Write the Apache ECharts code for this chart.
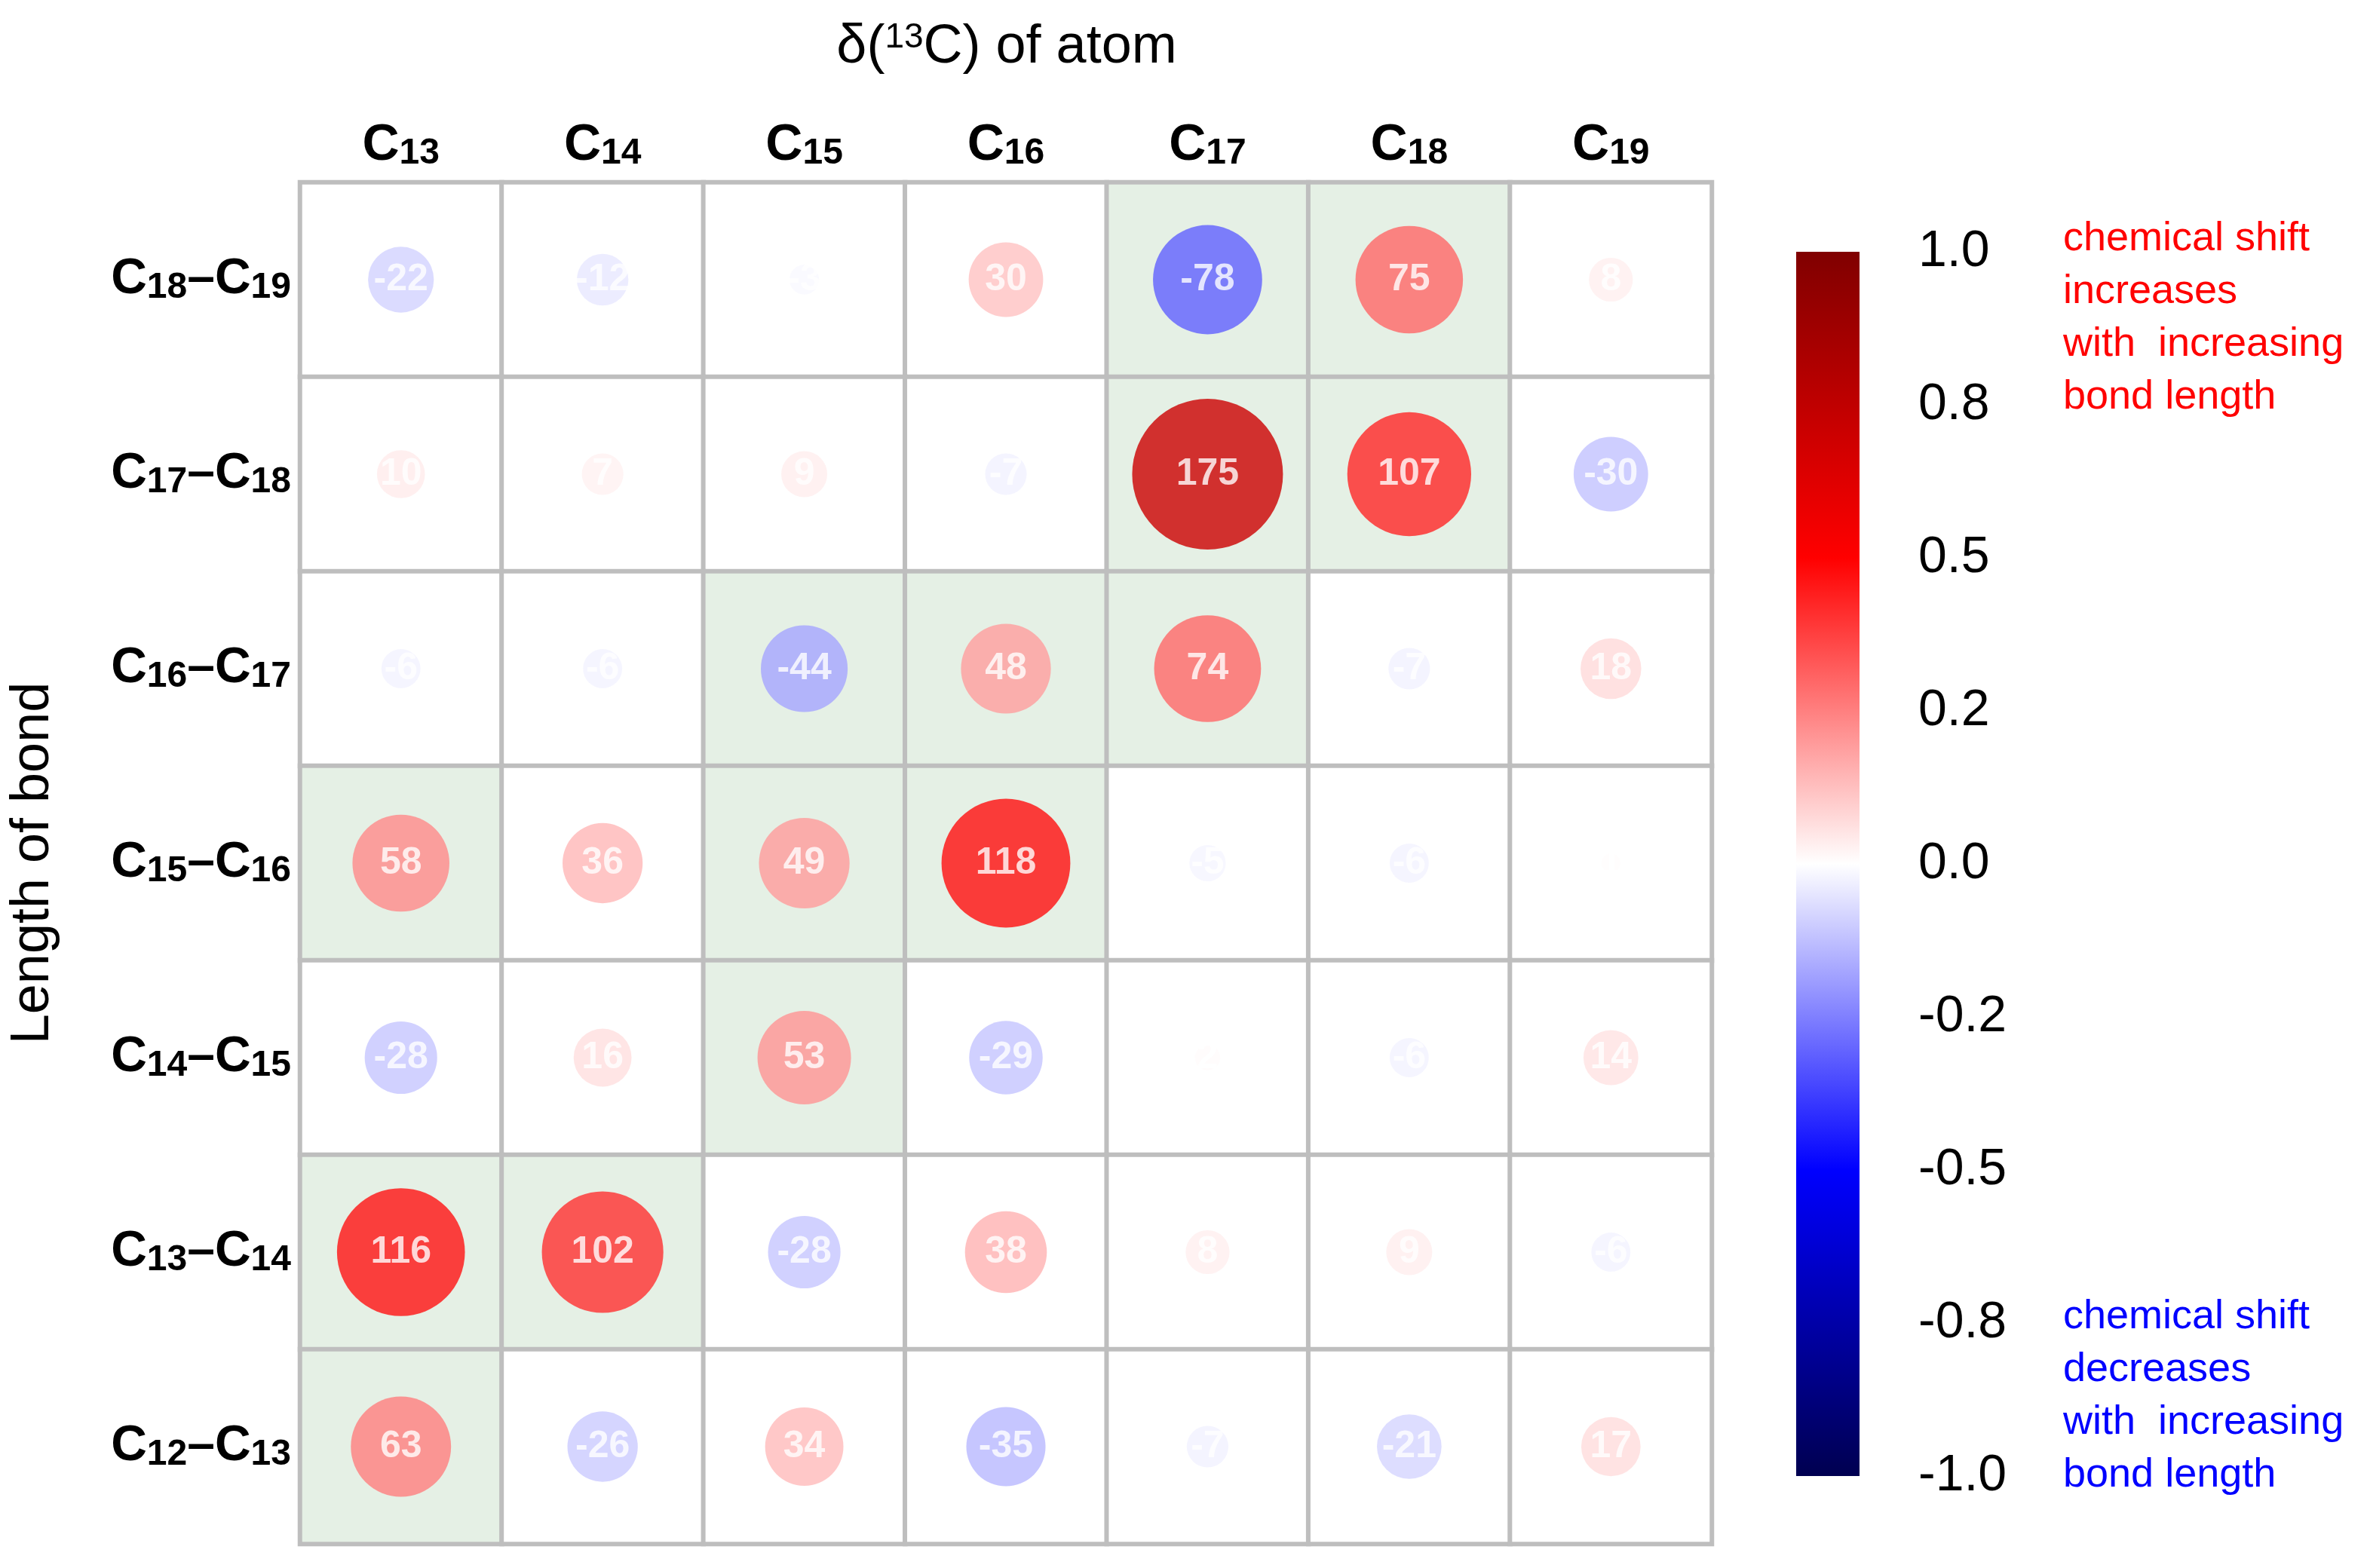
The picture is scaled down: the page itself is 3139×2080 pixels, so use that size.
<!DOCTYPE html>
<html>
<head>
<meta charset="utf-8">
<script src="https://cdn.jsdelivr.net/npm/echarts@6/dist/echarts.min.js"></script>
<style>
  html, body { margin: 0; padding: 0; background: #fff; }
  #main { width: 3139px; height: 2080px; }
</style>
</head>
<body>
<div id="main"></div>
<script>
// columns: atoms, rows: bonds (top to bottom)
const atoms = ['13', '14', '15', '16', '17', '18', '19']
const bonds = [['18', '19'], ['17', '18'], ['16', '17'], ['15', '16'], ['14', '15'], ['13', '14'], ['12', '13']]
const shifts = [
  [-22, -12, -3, 30, -78, 75, 8],
  [10, 7, 9, -7, 175, 107, -30],
  [-6, -6, -44, 48, 74, -7, 18],
  [58, 36, 49, 118, -5, -6, 1],
  [-28, 16, 53, -29, 2, -6, 14],
  [116, 102, -28, 38, 8, 9, -6],
  [63, -26, 34, -35, -7, -21, 17]
]
// cells where the atom belongs to the bond
const highlight = [
  [0, 0, 0, 0, 1, 1, 0],
  [0, 0, 0, 0, 1, 1, 0],
  [0, 0, 1, 1, 1, 0, 0],
  [1, 0, 1, 1, 0, 0, 0],
  [0, 0, 1, 0, 0, 0, 0],
  [1, 1, 0, 0, 0, 0, 0],
  [1, 0, 0, 0, 0, 0, 0]
]
const barTicks = { '1': '1.0', '0.75': '0.8', '0.5': '0.5', '0.25': '0.2', '0': '0.0',
  '-0.25': '-0.2', '-0.5': '-0.5', '-0.75': '-0.8', '-1': '-1.0' }
const scaleMax = 250

const stops = [[-1, [0, 0, 80]], [-0.5, [0, 0, 255]], [0, [255, 255, 255]], [0.5, [255, 0, 0]], [1, [128, 0, 0]]]
function colorOf(r) {
  r = Math.max(-1, Math.min(1, r))
  for (let i = 0; i < stops.length - 1; i++) {
    const [a, ca] = stops[i], [b, cb] = stops[i + 1]
    if (r >= a && r <= b) {
      const t = (r - a) / (b - a)
      const c = ca.map((v, k) => Math.round(v + (cb[k] - v) * t))
      return 'rgb(' + c.join(',') + ')'
    }
  }
  return '#fff'
}

const rowNames = bonds.map(b => b[0] + '-' + b[1])
const cells = []
const dots = []
bonds.forEach((b, i) => {
  atoms.forEach((a, j) => {
    cells.push({ value: [j, i, highlight[i][j]], itemStyle: { color: highlight[i][j] ? '#e5f0e5' : '#ffffff' } })
    const v = shifts[i][j]
    dots.push({ value: [j, i, v], itemStyle: { color: colorOf(v / scaleMax) } })
  })
})

const font = 'Liberation Sans, Arial, sans-serif'
const option = {
  backgroundColor: '#fff',
  animation: false,
  textStyle: { fontFamily: font },
  title: {
    text: 'δ({sup|13}C) of atom',
    left: 1330, top: 22, textAlign: 'center',
    textStyle: {
      fontSize: 72, fontWeight: 'normal', color: '#000', fontFamily: font,
      rich: { sup: { fontSize: 46, verticalAlign: 'top', padding: [0, 0, 26, 0], fontFamily: font } }
    }
  },
  graphic: [
    { type: 'text', left: 2736, top: 282, style: { text: 'chemical shift\nincreases\nwith  increasing\nbond length', fill: '#ff0000', font: '54px ' + font, lineHeight: 70 } },
    { type: 'text', left: 2736, top: 1712, style: { text: 'chemical shift\ndecreases\nwith  increasing\nbond length', fill: '#0000ff', font: '54px ' + font, lineHeight: 70 } }
  ],
  grid: [
    { left: 394, top: 242, width: 1876, height: 1806 },
    { left: 2382, top: 334, width: 84, height: 1624 }
  ],
  xAxis: [
    {
      type: 'category', data: atoms, position: 'top', gridIndex: 0,
      axisLine: { show: false }, axisTick: { show: false },
      axisLabel: {
        margin: 14,
        formatter: a => '{c|C}{s|' + a + '}',
        rich: {
          c: { fontSize: 68, fontWeight: 'bold', color: '#000', fontFamily: font },
          s: { fontSize: 48, fontWeight: 'bold', color: '#000', fontFamily: font, padding: [22, 0, 0, 0] }
        }
      }
    },
    { type: 'category', data: [''], gridIndex: 1, show: false }
  ],
  yAxis: [
    {
      type: 'category', data: rowNames, inverse: true, gridIndex: 0,
      name: 'Length of bond', nameLocation: 'middle', nameGap: 318, nameRotate: 90,
      nameTextStyle: { fontSize: 72, color: '#000', fontFamily: font },
      axisLine: { show: false }, axisTick: { show: false },
      axisLabel: {
        margin: 12,
        formatter: (n) => {
          const p = n.split('-')
          return '{c|C}{s|' + p[0] + '}{c|–C}{s|' + p[1] + '}'
        },
        rich: {
          c: { fontSize: 66, fontWeight: 'bold', color: '#000', fontFamily: font },
          s: { fontSize: 48, fontWeight: 'bold', color: '#000', fontFamily: font, padding: [22, 0, 0, 0] }
        }
      }
    },
    {
      type: 'value', gridIndex: 1, min: -1, max: 1, interval: 0.25, position: 'right',
      splitLine: { show: false }, axisLine: { show: false }, axisTick: { show: false },
      axisLabel: { margin: 78, fontSize: 68, color: '#000', fontFamily: font, formatter: v => barTicks[String(v)] }
    }
  ],
  series: [
    {
      type: 'heatmap', data: cells, xAxisIndex: 0, yAxisIndex: 0,
      itemStyle: { borderColor: '#bebebe', borderWidth: 6 },
      emphasis: { disabled: true }
    },
    {
      type: 'scatter', data: dots, xAxisIndex: 0, yAxisIndex: 0,
      symbolSize: d => 200 * Math.pow(Math.abs(d[2]) / 175, 0.4),
      label: {
        show: true, position: 'inside', color: '#fff', fontWeight: 'bold', fontSize: 50, fontFamily: font,
        formatter: p => String(p.value[2])
      }
    },
    {
      type: 'custom', xAxisIndex: 1, yAxisIndex: 1, data: [[0, 1]],
      renderItem: (params, api) => {
        const top = api.coord([0, 1])
        const bottom = api.coord([0, -1])
        const w = api.size([1, 0])[0]
        return {
          type: 'rect',
          shape: { x: top[0] - w / 2, y: top[1], width: w, height: bottom[1] - top[1] },
          style: {
            fill: new echarts.graphic.LinearGradient(0, 0, 0, 1, stops.slice().reverse().map(s => ({
              offset: (1 - s[0]) / 2, color: 'rgb(' + s[1].join(',') + ')'
            })))
          }
        }
      }
    }
  ]
}

const myChart = echarts.init(document.getElementById('main'))
myChart.setOption(option, true)
window.addEventListener('resize', () => {
  myChart.resize()
})
</script>
</body>
</html>
